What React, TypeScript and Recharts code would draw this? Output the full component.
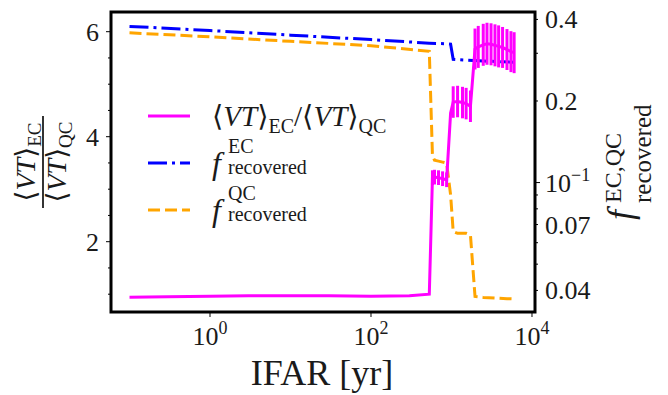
import React from 'react';
import { LineChart, Line, XAxis, YAxis, ErrorBar, Legend, ReferenceArea } from 'recharts';

const FONT = '"Liberation Serif", "DejaVu Serif", serif';

// <VT>_EC / <VT>_QC ratio versus IFAR [yr]
const ratioIfar = [0.1, 0.3, 1, 3, 10, 30, 100, 300, 530, 580, 615, 690, 775, 870, 975, 1050, 1190, 1370, 1520, 1720, 1960, 2150, 2480, 2760, 3100, 3470, 3850, 4310, 4890, 5480, 6000];
const ratioValue = [0.94, 0.95, 0.96, 0.97, 0.97, 0.97, 0.96, 0.97, 1.0, 3.22, 3.23, 3.22, 3.2, 3.18, 4.45, 4.66, 4.67, 4.65, 4.63, 4.58, 5.67, 5.71, 5.75, 5.77, 5.76, 5.74, 5.72, 5.7, 5.66, 5.62, 5.6];
const ratioError = [0, 0, 0, 0, 0, 0, 0, 0, 0, 0.14, 0.14, 0.14, 0.14, 0.14, 0, 0.3, 0.3, 0.3, 0.3, 0.3, 0.39, 0.4, 0.4, 0.4, 0.4, 0.4, 0.4, 0.39, 0.39, 0.39, 0.39];

// f_recovered^EC versus IFAR [yr]
const fecIfar = [0.1, 1, 10, 100, 530, 870, 975, 1050, 1520, 2480, 4310, 6000];
const fecValue = [0.377, 0.364, 0.35, 0.337, 0.327, 0.325, 0.324, 0.285, 0.283, 0.281, 0.279, 0.278];

// f_recovered^QC versus IFAR [yr]
const fqcIfar = [0.1, 1, 10, 100, 530, 580, 615, 690, 775, 870, 975, 1050, 1190, 1370, 1520, 1720, 1960, 2480, 3470, 4890, 6000];
const fqcValue = [0.357, 0.345, 0.332, 0.32, 0.305, 0.126, 0.121, 0.12, 0.119, 0.118, 0.09, 0.066, 0.065, 0.065, 0.065, 0.064, 0.038, 0.0377, 0.0375, 0.0373, 0.0372];

const xTicks = [1, 100, 10000];
const xTickExponents = ['0', '2', '4'];
const leftTicks = [1, 1.5, 2, 2.5, 3, 3.5, 4, 4.5, 5, 5.5, 6];
const leftLabeled = [2, 4, 6];
const rightTicks = [0.04, 0.05, 0.06, 0.07, 0.08, 0.09, 0.1, 0.2, 0.3, 0.4];
const rightLabeled = [0.04, 0.07, 0.2, 0.4];

const ratioData = ratioIfar.map((x, i) => ({ x, y: ratioValue[i], err: ratioError[i] }));
const fecData = fecIfar.map((x, i) => ({ x, y: fecValue[i] }));
const fqcData = fqcIfar.map((x, i) => ({ x, y: fqcValue[i] }));

const TICK_FS = 26;
const TXT = '#1a1a1a';

const XTick = (props: any) => {
  const { x, y, payload } = props;
  const idx = xTicks.indexOf(payload.value);
  return (
    <g>
      <line x1={x} x2={x} y1={y} y2={y + 5} stroke="#000" strokeWidth={1} />
      <text x={x} y={y + 33} textAnchor="middle" fontFamily={FONT} fontSize={TICK_FS} fill={TXT}>
        10<tspan dy={-11} fontSize={18}>{xTickExponents[idx]}</tspan>
      </text>
    </g>
  );
};

const LeftTick = (props: any) => {
  const { x, y, payload } = props;
  const major = leftLabeled.includes(payload.value);
  return (
    <g>
      <line x1={x - (major ? 5 : 3)} x2={x} y1={y} y2={y} stroke="#000" strokeWidth={1} />
      {major && (
        <text x={x - 12} y={y + 9} textAnchor="end" fontFamily={FONT} fontSize={TICK_FS} fill={TXT}>
          {payload.value}
        </text>
      )}
    </g>
  );
};

const RightTick = (props: any) => {
  const { x, y, payload } = props;
  const v = payload.value;
  const major = v === 0.1;
  const labeled = rightLabeled.includes(v);
  return (
    <g>
      <line x1={x} x2={x + (major ? 5 : 3)} y1={y} y2={y} stroke="#000" strokeWidth={1} />
      {labeled && (
        <text x={x + 10} y={y + 9} textAnchor="start" fontFamily={FONT} fontSize={TICK_FS} fill={TXT}>
          {String(v)}
        </text>
      )}
      {major && (
        <text x={x + 10} y={y + 9} textAnchor="start" fontFamily={FONT} fontSize={TICK_FS} fill={TXT}>
          10<tspan dy={-11} fontSize={18}>−1</tspan>
        </text>
      )}
    </g>
  );
};

const LeftLabel = () => (
  <g transform="translate(43,162) rotate(-90)" fontFamily={FONT} fill={TXT}>
    <text x={0} y={-8} textAnchor="middle" fontSize={28}>
      ⟨<tspan fontStyle="italic">VT</tspan>⟩<tspan fontSize={19} dy={6}>EC</tspan>
    </text>
    <line x1={-46} x2={46} y1={0} y2={0} stroke="#000" strokeWidth={1.6} />
    <text x={0} y={23} textAnchor="middle" fontSize={28}>
      ⟨<tspan fontStyle="italic">VT</tspan>⟩<tspan fontSize={19} dy={6}>QC</tspan>
    </text>
  </g>
);

const RightLabel = () => (
  <g transform="translate(630,156) rotate(-90)" fontFamily={FONT} fill={TXT}>
    <text x={-64} y={2} fontSize={36} fontStyle="italic">f</text>
    <text x={-47} y={-9} fontSize={24}>EC,QC</text>
    <text x={-47} y={21} fontSize={25}>recovered</text>
  </g>
);

const XLabel = () => (
  <text x={322} y={385} textAnchor="middle" fontFamily={FONT} fontSize={36} fill={TXT}>
    IFAR [yr]
  </text>
);

const LegendBox = () => {
  const row = (top: number, sample: React.ReactNode, label: React.ReactNode) => (
    <div style={{ position: 'absolute', left: 0, top, height: 40, width: 300 }}>
      <svg width={60} height={40} style={{ position: 'absolute', left: 0, top: 0 }}>{sample}</svg>
      <div style={{ position: 'absolute', left: 72, top: 0, whiteSpace: 'nowrap' }}>{label}</div>
    </div>
  );
  const fLabel = (sup: string) => (
    <div style={{ position: 'relative', height: 40, width: 120 }}>
      <span style={{ position: 'absolute', left: 0, top: 0, fontStyle: 'italic', fontSize: 32, lineHeight: '40px' }}>f</span>
      <span style={{ position: 'absolute', left: 16, top: -7, fontSize: 20, lineHeight: '20px' }}>{sup}</span>
      <span style={{ position: 'absolute', left: 16, top: 14, fontSize: 20, lineHeight: '20px' }}>recovered</span>
    </div>
  );
  return (
    <div style={{ position: 'relative', width: 300, height: 150, fontFamily: FONT, color: TXT }}>
      {row(6,
        <line x1={8} x2={50} y1={20} y2={20} stroke="#ff00ff" strokeWidth={3} />,
        <span style={{ fontSize: 29, lineHeight: '40px' }}>
          ⟨<i>VT</i>⟩<sub style={{ fontSize: 20 }}>EC</sub>/⟨<i>VT</i>⟩<sub style={{ fontSize: 20 }}>QC</sub>
        </span>
      )}
      {row(53,
        <line x1={8} x2={50} y1={20} y2={20} stroke="#0000ff" strokeWidth={3} strokeDasharray="19 5 3 5" />,
        fLabel('EC')
      )}
      {row(100,
        <line x1={8} x2={50} y1={20} y2={20} stroke="#ffa500" strokeWidth={3} strokeDasharray="12 5" />,
        fLabel('QC')
      )}
    </div>
  );
};

export default function App() {
  return (
    <div style={{ position: 'absolute', left: 0, top: 0, width: 668, height: 395, background: '#fff' }}>
      <LineChart width={668} height={395} margin={{ top: 12, right: 73, bottom: 43, left: 51 }}>
        <XAxis
          type="number"
          dataKey="x"
          scale="log"
          domain={[0.0589, 10900]}
          allowDataOverflow
          ticks={xTicks}
          tick={(p: any) => <XTick {...p} />}
          tickLine={false}
          tickSize={0}
          tickMargin={0}
          axisLine={false}
          height={40}
          interval={0}
          label={<XLabel />}
        />
        <YAxis
          yAxisId="left"
          type="number"
          domain={[0.661, 6.375]}
          allowDataOverflow
          ticks={leftTicks}
          tick={(p: any) => <LeftTick {...p} />}
          tickLine={false}
          tickSize={0}
          tickMargin={0}
          axisLine={false}
          width={60}
          interval={0}
          label={<LeftLabel />}
        />
        <YAxis
          yAxisId="right"
          orientation="right"
          type="number"
          scale="log"
          domain={[0.0333, 0.426]}
          allowDataOverflow
          ticks={rightTicks}
          tick={(p: any) => <RightTick {...p} />}
          tickLine={false}
          tickSize={0}
          tickMargin={0}
          axisLine={false}
          width={60}
          interval={0}
          label={<RightLabel />}
        />
        <Line
          yAxisId="right"
          data={fecData}
          dataKey="y"
          stroke="#0000ff"
          strokeWidth={3}
          strokeDasharray="19 5 3 5"
          dot={false}
          activeDot={false}
          isAnimationActive={false}
        />
        <Line
          yAxisId="right"
          data={fqcData}
          dataKey="y"
          stroke="#ffa500"
          strokeWidth={3}
          strokeDasharray="12 5"
          dot={false}
          activeDot={false}
          isAnimationActive={false}
        />
        <Line
          yAxisId="left"
          data={ratioData}
          dataKey="y"
          stroke="#ff00ff"
          strokeWidth={3}
          dot={false}
          activeDot={false}
          isAnimationActive={false}
        >
          <ErrorBar dataKey="err" direction="y" width={0} stroke="#ff00ff" strokeWidth={3} isAnimationActive={false} />
        </Line>
        <ReferenceArea
          yAxisId="left"
          x1={0.0589}
          x2={10900}
          y1={0.661}
          y2={6.375}
          fill="none"
          fillOpacity={0}
          stroke="#000"
          strokeWidth={3}
          ifOverflow="visible"
        />
        <Legend
          layout="vertical"
          align="center"
          verticalAlign="middle"
          content={() => <LegendBox />}
          wrapperStyle={{ position: 'absolute', left: 140, top: 90, width: 300, height: 150 }}
        />
      </LineChart>
    </div>
  );
}
